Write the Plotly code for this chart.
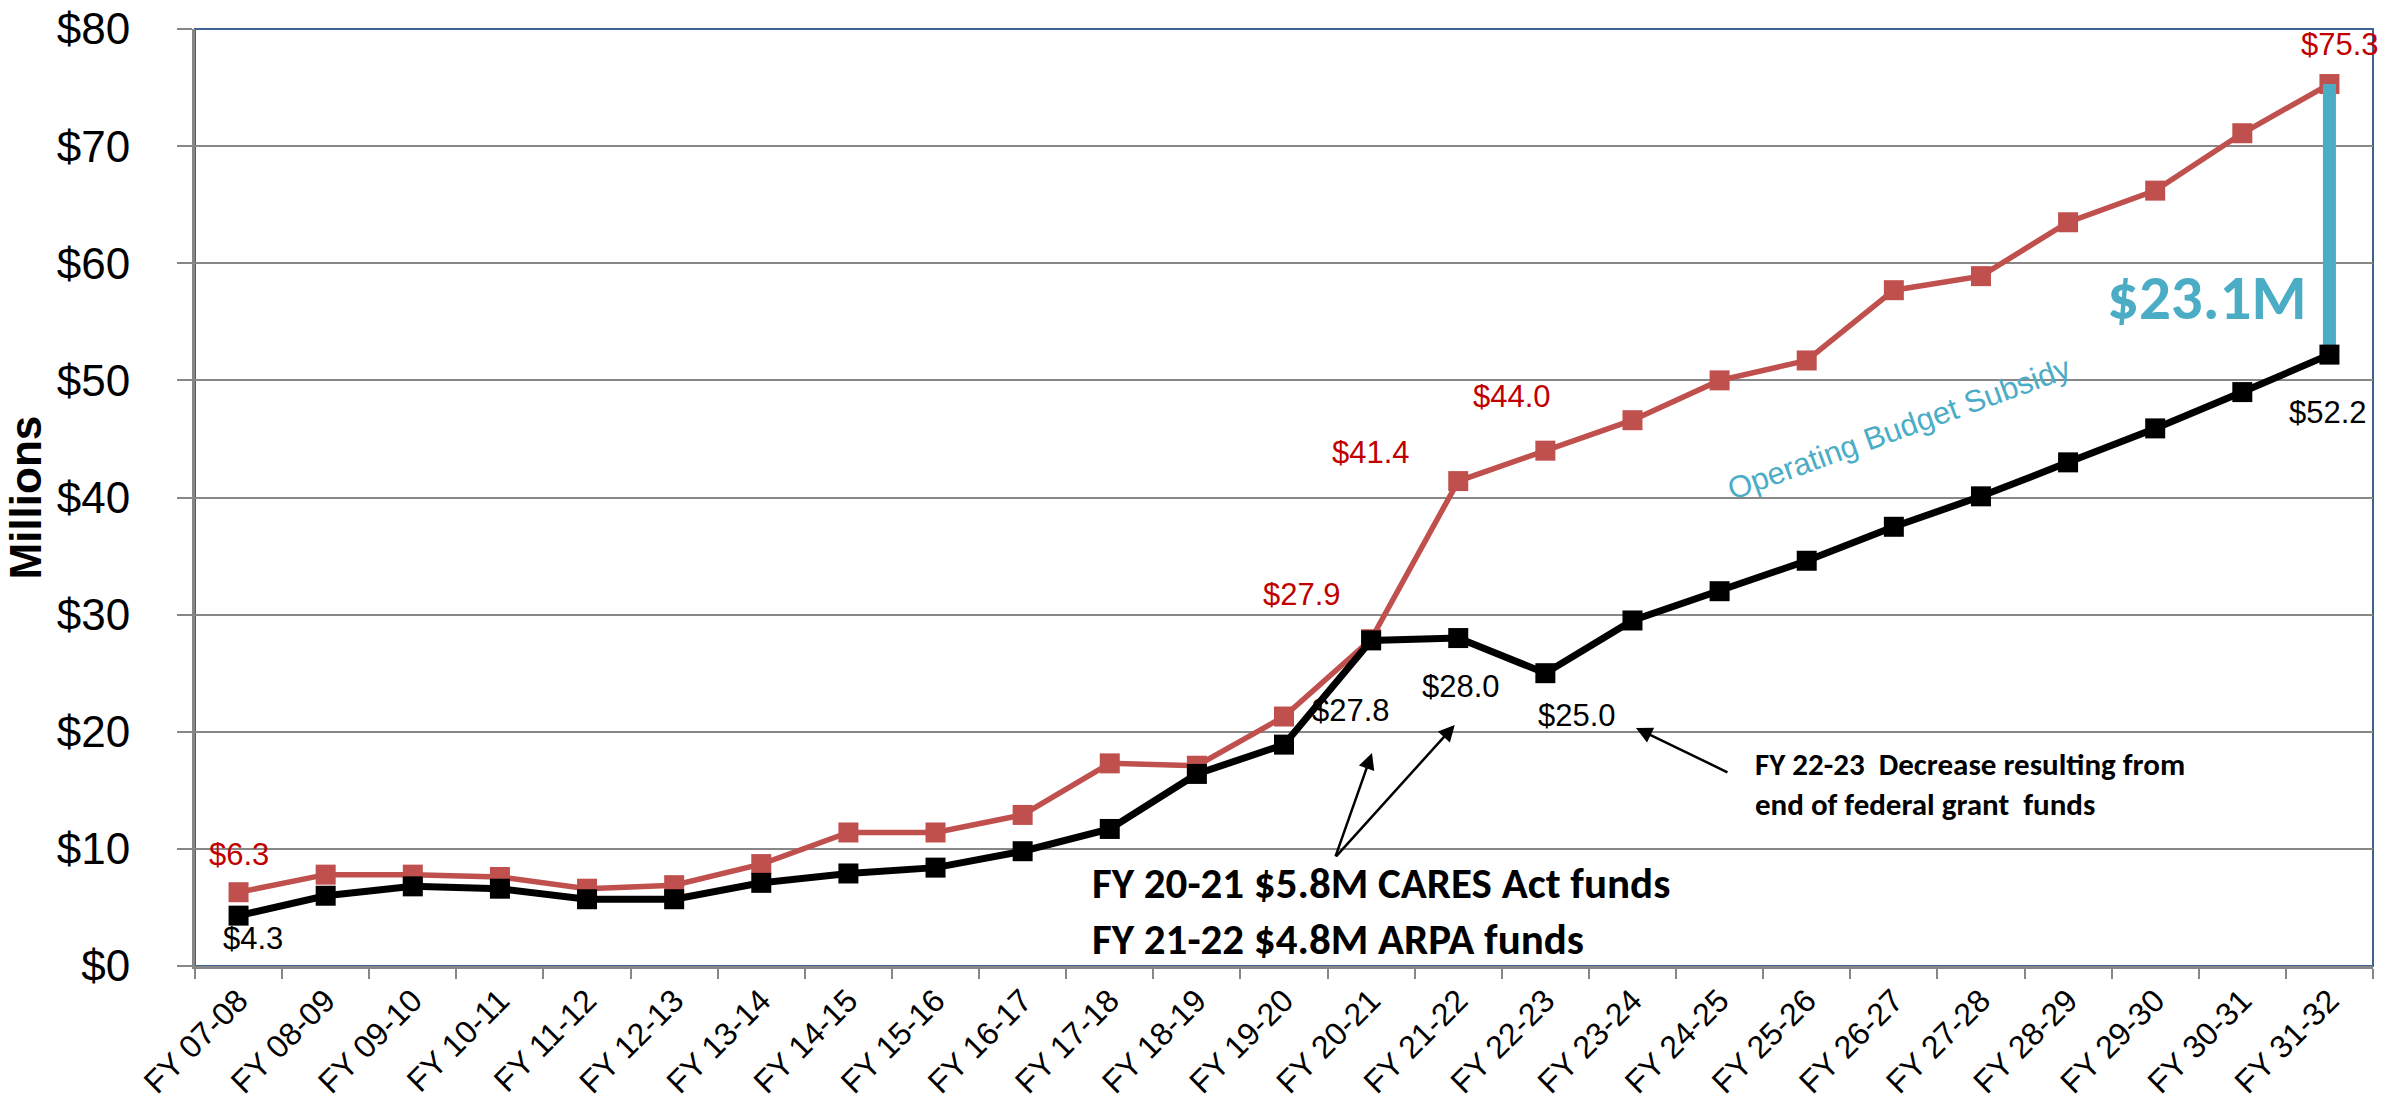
import plotly.graph_objects as go

categories = ["FY 07-08", "FY 08-09", "FY 09-10", "FY 10-11", "FY 11-12", "FY 12-13",
              "FY 13-14", "FY 14-15", "FY 15-16", "FY 16-17", "FY 17-18", "FY 18-19",
              "FY 19-20", "FY 20-21", "FY 21-22", "FY 22-23", "FY 23-24", "FY 24-25",
              "FY 25-26", "FY 26-27", "FY 27-28", "FY 28-29", "FY 29-30", "FY 30-31",
              "FY 31-32"]
# Operating expenses (red) and revenues (black), $ millions
expenses = [6.3, 7.8, 7.8, 7.6, 6.6, 6.9, 8.7, 11.4, 11.4, 12.9, 17.3, 17.1,
            21.3, 27.9, 41.4, 44.0, 46.6, 50.0, 51.7, 57.7, 58.9, 63.5, 66.2,
            71.1, 75.3]
revenues = [4.3, 6.0, 6.8, 6.6, 5.7, 5.7, 7.1, 7.9, 8.4, 9.8, 11.7, 16.4,
            18.9, 27.8, 28.0, 25.0, 29.5, 32.0, 34.6, 37.5, 40.1, 43.0, 45.9,
            49.0, 52.2]
y_ticks = [0, 10, 20, 30, 40, 50, 60, 70, 80]
gap_label = "$23.1M"

RED = "#C0504D"
RED_TXT = "#C00000"
BLUE = "#4BACC6"
GRID = "#878787"
ARIAL = "Arial, Liberation Sans, sans-serif"
CAL = "Carlito, Lato, sans-serif"

fig = go.Figure()
fig.add_trace(go.Scatter(x=categories, y=expenses, mode="lines+markers",
                         line=dict(color=RED, width=5.5),
                         marker=dict(symbol="square", size=20, color=RED),
                         name="Expenses", cliponaxis=False))
fig.add_trace(go.Scatter(x=[categories[-1], categories[-1]], y=[revenues[-1], expenses[-1]],
                         mode="lines", line=dict(color=BLUE, width=13), name="Gap",
                         cliponaxis=False))
fig.add_trace(go.Scatter(x=categories, y=revenues, mode="lines+markers",
                         line=dict(color="black", width=7),
                         marker=dict(symbol="square", size=20, color="black"),
                         name="Revenues", cliponaxis=False))

ann = []

def dlabel(idx, series, color, dx, dy):
    ann.append(dict(x=categories[idx], y=series[idx], xref="x", yref="y",
                    text="$%.1f" % series[idx], showarrow=False,
                    xshift=dx, yshift=dy, font=dict(family=ARIAL, size=31, color=color)))

dlabel(0, expenses, RED_TXT, 0, 38)
dlabel(0, revenues, "black", 14, -23)
dlabel(13, expenses, RED_TXT, -69, 45)
dlabel(13, revenues, "black", -20, -70)
dlabel(14, expenses, RED_TXT, -87, 29)
dlabel(15, expenses, RED_TXT, -33, 54)
dlabel(14, revenues, "black", 3, -48)
dlabel(15, revenues, "black", 32, -42)
dlabel(24, expenses, RED_TXT, 11, 40)
dlabel(24, revenues, "black", -1, -58)

ann.append(dict(x=22.6, y=57.1, xref="x", yref="y", text="<b>%s</b>" % gap_label,
                showarrow=False, font=dict(family=CAL, size=63, color=BLUE)))
ann.append(dict(x=19.06, y=45.86, xref="x", yref="y", text="Operating Budget Subsidy",
                showarrow=False, textangle=-20, font=dict(family=ARIAL, size=31, color=BLUE)))

ann.append(dict(x=9.77, y=4.65, xref="x", yref="y",
                text="<b>FY 20-21 $5.8M CARES Act funds<br>FY 21-22 $4.8M ARPA funds</b>",
                showarrow=False, xanchor="left", yanchor="middle", align="left",
                font=dict(family=CAL, size=43, color="black")))
ann.append(dict(x=17.38, y=15.58, xref="x", yref="y",
                text="<b>FY 22-23  Decrease resulting from<br>end of federal grant  funds</b>",
                showarrow=False, xanchor="left", yanchor="middle", align="left",
                font=dict(family=CAL, size=31, color="black")))

for hx, hy, ax, ay in [(13.01, 18.19, -37, 105), (13.96, 20.58, -120, 133), (16.04, 20.32, 93, 45)]:
    ann.append(dict(x=hx, y=hy, xref="x", yref="y", text="", showarrow=True, ax=ax, ay=ay,
                    arrowhead=2, arrowsize=1.3, arrowwidth=2.5, arrowcolor="black", standoff=0))

ann.append(dict(x=-0.0776, y=0.5, xref="paper", yref="paper", text="<b>Millions</b>",
                xanchor="center", yanchor="middle",
                showarrow=False, textangle=-90, font=dict(family=ARIAL, size=44, color="black")))

fig.update_layout(
    width=2382, height=1106,
    margin=dict(l=195, r=9, t=29, b=140),
    paper_bgcolor="white", plot_bgcolor="white",
    showlegend=False,
    annotations=ann,
    shapes=[dict(type="rect", xref="paper", yref="paper", x0=0, y0=0, x1=1, y1=1,
                 line=dict(color="#3F6494", width=2), layer="below")],
)
fig.update_xaxes(type="category", categoryorder="array", categoryarray=categories,
                 tickson="boundaries", ticks="outside", ticklen=10, tickwidth=2, tickcolor=GRID,
                 showline=True, linecolor=GRID, linewidth=3, showgrid=False,
                 tickangle=-45, tickfont=dict(family=ARIAL, size=32, color="black"),
                 range=[-0.5, 24.5], automargin=False)
fig.update_yaxes(range=[0, 80], tickvals=y_ticks, ticktext=["$%d" % v for v in y_ticks],
                 ticks="outside", ticklen=15, tickwidth=2, tickcolor=GRID,
                 showline=True, linecolor=GRID, linewidth=3,
                 showgrid=True, gridcolor=GRID, gridwidth=2, zeroline=False,
                 ticklabelstandoff=38, automargin=False,
                 tickfont=dict(family=ARIAL, size=44, color="black"))

fig.write_html("out.html", config={"displayModeBar": False},
               post_script="document.body.style.margin='0';document.body.style.overflow='hidden';")
